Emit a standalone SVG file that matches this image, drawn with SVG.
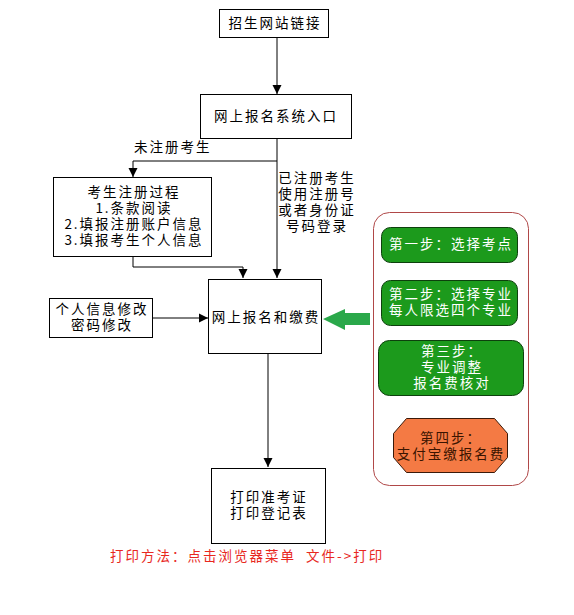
<svg xmlns="http://www.w3.org/2000/svg" width="574" height="615" viewBox="0 0 574 615">
<style>
.box{fill:#fff;stroke:#000;stroke-width:1}
.t{font-family:"Noto Sans CJK SC","Noto Sans",sans-serif;font-size:13.5px;fill:#000;letter-spacing:2px}
.w{fill:#fff}
.c{text-anchor:middle}
.ln{fill:none;stroke:#000;stroke-width:1}
.step{fill:#1c9a1c;stroke:#0d400d;stroke-width:1}
</style>
<defs>
<marker id="ah" viewBox="0 0 10 10" refX="10" refY="5" markerWidth="9" markerHeight="10" markerUnits="userSpaceOnUse" orient="auto">
<path d="M0,0 L10,5 L0,10 z" fill="#000"/>
</marker>
</defs>
<rect width="574" height="615" fill="#fff"/>

<g id="connectors">
<path class="ln" d="M277,37 V94" marker-end="url(#ah)"/>
<path class="ln" d="M277,139 V278" marker-end="url(#ah)"/>
<path class="ln" d="M277,161 H133 V177" marker-end="url(#ah)"/>
<path class="ln" d="M133,256 V267 H243 V278" marker-end="url(#ah)"/>
<path class="ln" d="M152,318 H208" marker-end="url(#ah)"/>
<path class="ln" d="M268,354 V467" marker-end="url(#ah)"/>
<path class="ln" d="M451,262 V280" marker-end="url(#ah)"/>
<path class="ln" d="M451,325 V340" marker-end="url(#ah)"/>
<path class="ln" d="M451,395 V418" marker-end="url(#ah)"/>
<polygon points="323,319 345,309 345,313 370,313 370,325 345,325 345,330" fill="#2aa84a"/>
</g>

<g id="label-unregistered"><text class="t" x="134" y="152">未注册考生</text></g>
<g id="label-registered">
<text class="t c" x="317" y="183">已注册考生</text>
<text class="t c" x="317" y="199">使用注册号</text>
<text class="t c" x="317" y="215">或者身份证</text>
<text class="t c" x="317" y="231">号码登录</text>
</g>

<g id="n1"><rect class="box" x="219.5" y="9.5" width="109" height="28"/><text class="t c" x="275" y="28">招生网站链接</text></g>
<g id="n2"><rect class="box" x="200.5" y="94.5" width="151" height="44"/><text class="t c" x="276" y="121">网上报名系统入口</text></g>
<g id="n3"><rect class="box" x="53.5" y="177.5" width="158" height="79"/>
<text class="t c" x="134" y="197">考生注册过程</text>
<text class="t c" x="134" y="213">1.条款阅读</text>
<text class="t c" x="134" y="229">2.填报注册账户信息</text>
<text class="t c" x="134" y="245">3.填报考生个人信息</text></g>
<g id="n4"><rect class="box" x="208.5" y="279.5" width="113" height="74"/><text class="t c" x="266" y="322">网上报名和缴费</text></g>
<g id="n5"><rect class="box" x="49.5" y="298.5" width="103" height="39"/>
<text class="t c" x="102" y="314">个人信息修改</text>
<text class="t c" x="102" y="330">密码修改</text></g>
<g id="n6"><rect class="box" x="211.5" y="468.5" width="114" height="75"/>
<text class="t c" x="269" y="502">打印准考证</text>
<text class="t c" x="269" y="518">打印登记表</text></g>

<g id="panel"><rect x="373.5" y="212.5" width="155" height="273" rx="16" fill="#fff" stroke="#b04848" stroke-width="1"/></g>
<g id="s1"><rect class="step" x="381.5" y="227.5" width="136" height="35" rx="9"/><text class="t c w" x="451" y="249">第一步：选择考点</text></g>
<g id="s2"><rect class="step" x="381.5" y="280.5" width="136" height="45" rx="9"/>
<text class="t c w" x="451" y="299">第二步：选择专业</text>
<text class="t c w" x="451" y="315">每人限选四个专业</text></g>
<g id="s3"><rect class="step" x="378.5" y="340.5" width="145" height="55" rx="11"/>
<text class="t c w" x="452" y="356">第三步：</text>
<text class="t c w" x="452" y="372">专业调整</text>
<text class="t c w" x="452" y="388">报名费核对</text></g>
<g id="s4"><polygon points="406.5,418.5 494.5,418.5 507.5,433.5 507.5,457.5 494.5,472.5 406.5,472.5 393.5,457.5 393.5,433.5" fill="#f47a44" stroke="#3a1a0a" stroke-width="1"/>
<text class="t c" x="451" y="443" style="fill:#3a1400">第四步：</text>
<text class="t c" x="451" y="459" style="fill:#3a1400">支付宝缴报名费</text></g>

<g id="note"><text class="t" x="110" y="561" xml:space="preserve" style="fill:#e8281e">打印方法：点击浏览器菜单  文件-&gt;打印</text></g>
</svg>
